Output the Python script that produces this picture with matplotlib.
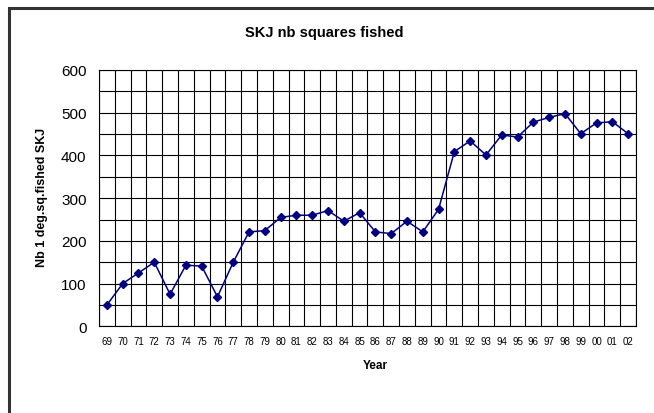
import matplotlib
matplotlib.use("Agg")
import matplotlib.pyplot as plt
from matplotlib.patches import Rectangle
from matplotlib.ticker import MultipleLocator

years = ["69", "70", "71", "72", "73", "74", "75", "76", "77", "78", "79",
         "80", "81", "82", "83", "84", "85", "86", "87", "88", "89", "90",
         "91", "92", "93", "94", "95", "96", "97", "98", "99", "00", "01", "02"]
squares = [50, 100, 125, 150, 75, 143, 141, 69, 150, 221, 224,
           255, 260, 260, 271, 246, 266, 221, 217, 246, 221, 274,
           409, 434, 401, 448, 443, 478, 489, 498, 451, 476, 479, 451]

fig = plt.figure(figsize=(6.54, 4.14), dpi=100)
plt.rcParams["font.family"] = ["Liberation Sans", "DejaVu Sans"]

# outer chart frame (only top and left edges visible in the reference)
fig.patches.append(Rectangle((9 / 654, -0.2), 1.2, 1.2 - 9 / 414,
                             transform=fig.transFigure, fill=False,
                             edgecolor="#333333", linewidth=2.2))

ax = fig.add_axes([99 / 654, 1 - 327.3 / 414, 537 / 654, 256.3 / 414])
x = list(range(len(years)))
ax.plot(x, squares, color="#000080", linewidth=1.1, marker="D",
        markersize=4.5, markerfacecolor="#000080", markeredgecolor="#000080",
        zorder=3)

ax.set_xlim(-0.5, len(years) - 0.5)
ax.set_ylim(0, 600)
ax.set_xticks(x)
ax.set_xticklabels(years, fontsize=7)
ax.xaxis.set_minor_locator(MultipleLocator(1, offset=0.5))
ax.yaxis.set_major_locator(MultipleLocator(100))
ax.yaxis.set_minor_locator(MultipleLocator(50))
ax.tick_params(axis="x", which="both", length=0, pad=7)
ax.tick_params(axis="y", which="both", length=0, labelsize=11, pad=9)
ax.grid(True, which="minor", axis="x", color="black", linewidth=0.8)
ax.grid(True, which="both", axis="y", color="black", linewidth=0.8)
for s in ax.spines.values():
    s.set_color("black")
    s.set_linewidth(0.8)

# chart title centred on the chart area, axis titles on the plot area
fig.text(324 / 654, 1 - 33 / 414, "SKJ nb squares fished",
         ha="center", va="center", fontsize=10.5, fontweight="bold")
fig.text(375 / 654, 1 - 366 / 414, "Year",
         ha="center", va="center", fontsize=8.5, fontweight="bold")
fig.text(42 / 654, 1 - 197 / 414, "Nb 1 deg.sq.fished SKJ", rotation=90,
         ha="center", va="center", fontsize=9, fontweight="bold")

fig.savefig("out.png", dpi=100)
